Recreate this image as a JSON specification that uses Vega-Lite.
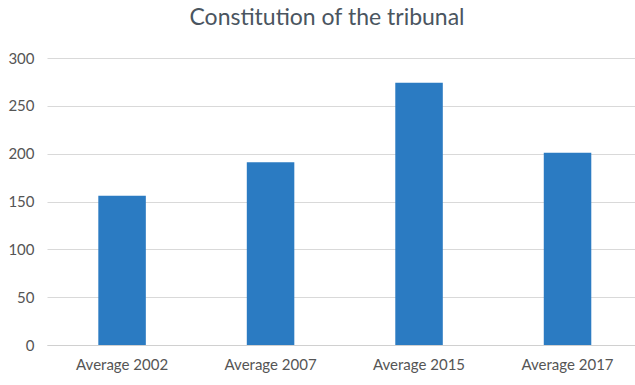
{
  "$schema": "https://vega.github.io/schema/vega-lite/v6.json",
  "width": 588,
  "height": 287,
  "autosize": {"type": "none"},
  "padding": {"left": 47, "top": 58, "right": 0, "bottom": 40},
  "background": "white",
  "title": {
    "text": "Constitution of the tribunal",
    "font": "Lato",
    "fontSize": 23,
    "fontWeight": "normal",
    "color": "#4a5560",
    "anchor": "middle",
    "dx": -14,
    "offset": 21
  },
  "data": {
    "values": [
      {"period": "Average 2002", "value": 156},
      {"period": "Average 2007", "value": 191},
      {"period": "Average 2015", "value": 274},
      {"period": "Average 2017", "value": 201}
    ]
  },
  "mark": {"type": "bar", "color": "#2B7BC2"},
  "encoding": {
    "x": {
      "field": "period",
      "type": "nominal",
      "sort": null,
      "scale": {"paddingInner": 0.68, "paddingOuter": 0.32, "align": 0.54},
      "axis": {
        "title": null,
        "labelAngle": 0,
        "labelFont": "Lato",
        "labelFontSize": 15,
        "labelColor": "#555555",
        "labelPadding": 12,
        "ticks": false,
        "domainColor": "#d0d0d0",
        "domainWidth": 1
      }
    },
    "y": {
      "field": "value",
      "type": "quantitative",
      "scale": {"domain": [0, 300]},
      "axis": {
        "title": null,
        "values": [0, 50, 100, 150, 200, 250, 300],
        "labelFont": "Lato",
        "labelFontSize": 15,
        "labelColor": "#555555",
        "labelPadding": 13,
        "ticks": false,
        "domain": false,
        "gridColor": "#d9d9d9",
        "gridWidth": 1
      }
    }
  },
  "config": {"view": {"stroke": null}}
}
